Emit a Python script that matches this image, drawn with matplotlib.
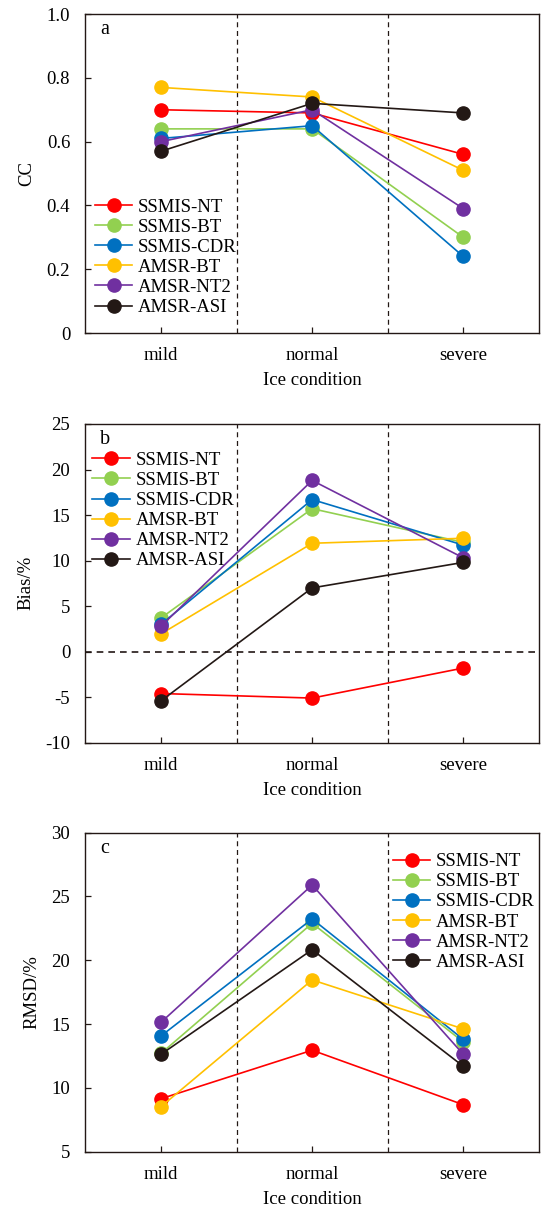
import numpy as np
import matplotlib.pyplot as plt

# ice condition categories
conditions = ['mild', 'normal', 'severe']
products = ['SSMIS-NT', 'SSMIS-BT', 'SSMIS-CDR', 'AMSR-BT', 'AMSR-NT2', 'AMSR-ASI']
colors = ['#ff0000', '#92d050', '#0070c0', '#ffc000', '#7030a0', '#231815']

# CC per product (mild, normal, severe)
cc_nt = [0.70, 0.69, 0.56]
cc_bt = [0.64, 0.64, 0.30]
cc_cdr = [0.61, 0.65, 0.24]
cc_amsr_bt = [0.77, 0.74, 0.51]
cc_nt2 = [0.60, 0.70, 0.39]
cc_asi = [0.57, 0.72, 0.69]

# Bias (%)
bias_nt = [-4.6, -5.1, -1.8]
bias_bt = [3.7, 15.7, 12.0]
bias_cdr = [3.0, 16.7, 11.7]
bias_amsr_bt = [1.95, 11.9, 12.45]
bias_nt2 = [2.8, 18.8, 10.3]
bias_asi = [-5.4, 7.0, 9.8]

# RMSD (%)
rmsd_nt = [9.15, 12.95, 8.68]
rmsd_bt = [12.7, 22.9, 13.6]
rmsd_cdr = [14.07, 23.24, 13.8]
rmsd_amsr_bt = [8.53, 18.46, 14.62]
rmsd_nt2 = [15.14, 25.9, 12.63]
rmsd_asi = [12.63, 20.83, 11.69]

plt.rcParams['font.family'] = ['Liberation Serif', 'DejaVu Serif']

fig = plt.figure(figsize=(5.41, 12.11), dpi=100)

panels = [
    dict(rect=[0.158, 0.725, 0.838, 0.2634], letter='a', ylabel='CC',
         data=[cc_nt, cc_bt, cc_cdr, cc_amsr_bt, cc_nt2, cc_asi],
         ylim=(0, 1.0), yticks=[0, 0.2, 0.4, 0.6, 0.8, 1.0],
         ytl=['0', '0.2', '0.4', '0.6', '0.8', '1.0'],
         leg_anchor=(0.021, 0.422), zero=False),
    dict(rect=[0.158, 0.3867, 0.838, 0.2632], letter='b', ylabel='Bias/%',
         data=[bias_nt, bias_bt, bias_cdr, bias_amsr_bt, bias_nt2, bias_asi],
         ylim=(-10, 25), yticks=[-10, -5, 0, 5, 10, 15, 20, 25],
         ytl=['-10', '-5', '0', '5', '10', '15', '20', '25'],
         leg_anchor=(0.015, 0.913), zero=True),
    dict(rect=[0.158, 0.049, 0.838, 0.2634], letter='c', ylabel='RMSD/%',
         data=[rmsd_nt, rmsd_bt, rmsd_cdr, rmsd_amsr_bt, rmsd_nt2, rmsd_asi],
         ylim=(5, 30), yticks=[5, 10, 15, 20, 25, 30],
         ytl=['5', '10', '15', '20', '25', '30'],
         leg_anchor=(0.678, 0.936), zero=False),
]

x = np.arange(len(conditions)) + 0.5
fs = 13.5

for p in panels:
    ax = fig.add_axes(p['rect'])
    for vals, name, col in zip(p['data'], products, colors):
        ax.plot(x, vals, '-o', color=col, lw=1.2, ms=9.5, label=name)
    for xv in [1, 2]:
        ax.axvline(xv, color='#231815', lw=0.9, ls=(0, (4, 3)), zorder=0)
    if p['zero']:
        ax.axhline(0, color='#231815', lw=1.2, ls=(0, (4, 3)), zorder=0)
    ax.set_xlim(0, 3)
    ax.set_ylim(*p['ylim'])
    ax.set_xticks(x)
    ax.set_xticklabels(conditions, fontsize=fs)
    ax.set_yticks(p['yticks'])
    ax.set_yticklabels(p['ytl'], fontsize=fs)
    ax.tick_params(axis='both', direction='in', length=4, width=0.9, color='#231815')
    ax.tick_params(axis='y', pad=11)
    ax.tick_params(axis='x', pad=10)
    for s in ax.spines.values():
        s.set_linewidth(1.0)
        s.set_color('#231815')
    ax.set_xlabel('Ice condition', fontsize=fs, labelpad=6)
    ax.set_ylabel(p['ylabel'], fontsize=fs, labelpad=8)
    ax.text(0.043, 0.95, p['letter'], transform=ax.transAxes, fontsize=fs + 1,
            ha='center', va='center')
    ax.legend(loc='upper left', bbox_to_anchor=p['leg_anchor'], frameon=False,
              fontsize=fs, borderpad=0, borderaxespad=0, labelspacing=0.16,
              handlelength=2.0, handletextpad=0.3)

fig.savefig('out.png', dpi=100, facecolor='white')
